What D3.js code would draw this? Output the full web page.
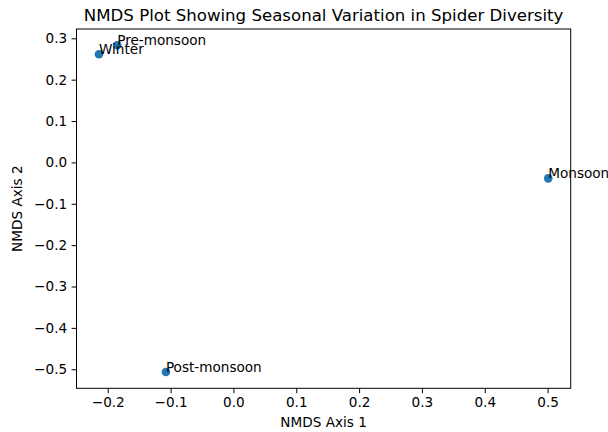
<!DOCTYPE html>
<html>
<head>
<meta charset="utf-8">
<script src="https://cdn.jsdelivr.net/npm/d3@7"></script>
<style>
  body { margin: 0; background: #fff; }
  svg { font-family: "DejaVu Sans", sans-serif; }
</style>
</head>
<body>
<div id="chart"></div>
<script>
// seasons and their NMDS coordinates
const seasons = ["Winter", "Pre-monsoon", "Monsoon", "Post-monsoon"]
const axis1 = [-0.214, -0.185, 0.501, -0.1075]
const axis2 = [0.2615, 0.283, -0.0386, -0.5066]
const xTicks = [-0.2, -0.1, 0.0, 0.1, 0.2, 0.3, 0.4, 0.5]
const yTicks = [0.3, 0.2, 0.1, 0.0, -0.1, -0.2, -0.3, -0.4, -0.5]

const width = 608, height = 432
const margin = {top: 29, right: 37.3, bottom: 43.7, left: 76.5}
const fs = 13.6

const fmt = v => d3.format(".1f")(v).replace("-", "\u2212")

// matplotlib style 5% padding around data
pad = (vals) => {
    const [lo, hi] = d3.extent(vals)
    const p = (hi - lo) * 0.05
    return [lo - p, hi + p]
}

const svg = d3.select("#chart")
    .append("svg")
    .attr("width", width)
    .attr("height", height)

const x = d3.scaleLinear()
    .domain(pad(axis1))
    .range([margin.left, width - margin.right])
const y = d3.scaleLinear()
    .domain(pad(axis2))
    .range([height - margin.bottom, margin.top])

const xAxis = svg.append("g")
    .attr("transform", `translate(0,${height - margin.bottom})`)
    .call(d3.axisBottom(x).tickValues(xTicks).tickFormat(fmt).tickSizeOuter(0).tickSize(4.9).tickPadding(4.5))
const yAxis = svg.append("g")
    .attr("transform", `translate(${margin.left},0)`)
    .call(d3.axisLeft(y).tickValues(yTicks).tickFormat(fmt).tickSizeOuter(0).tickSize(4.9).tickPadding(4.5))

for (const g of [xAxis, yAxis]) {
    g.select(".domain").remove()
    g.selectAll("text").attr("font-size", fs).attr("fill", "#000").attr("font-family", "DejaVu Sans")
    g.selectAll("line").attr("stroke", "#000").attr("stroke-width", 1)
}

// frame
svg.append("rect")
    .attr("x", margin.left)
    .attr("y", margin.top)
    .attr("width", width - margin.left - margin.right)
    .attr("height", height - margin.top - margin.bottom)
    .attr("fill", "none")
    .attr("stroke", "#000")
    .attr("stroke-width", 1)

const data = seasons.map((s, i) => ({s, a: axis1[i], b: axis2[i]}))

svg.selectAll("circle")
    .data(data)
    .enter()
    .append("circle")
    .attr("cx", d => x(d.a))
    .attr("cy", d => y(d.b))
    .attr("r", 4.3)
    .attr("fill", "#1f77b4")

svg.selectAll("text.lbl")
    .data(data)
    .enter()
    .append("text")
    .attr("class", "lbl")
    .attr("x", d => x(d.a))
    .attr("y", d => y(d.b))
    .attr("font-size", fs)
    .attr("fill", "#000")
    .text(d => d.s)

svg.append("text")
    .attr("x", (margin.left + width - margin.right) / 2)
    .attr("y", 21)
    .attr("text-anchor", "middle")
    .attr("font-size", 16.6)
    .text("NMDS Plot Showing Seasonal Variation in Spider Diversity")

svg.append("text")
    .attr("x", (margin.left + width - margin.right) / 2)
    .attr("y", 427)
    .attr("text-anchor", "middle")
    .attr("font-size", fs)
    .text("NMDS Axis 1")

svg.append("text")
    .attr("transform", `translate(22,${(margin.top + height - margin.bottom) / 2}) rotate(-90)`)
    .attr("text-anchor", "middle")
    .attr("font-size", fs)
    .text("NMDS Axis 2")
</script>
</body>
</html>
